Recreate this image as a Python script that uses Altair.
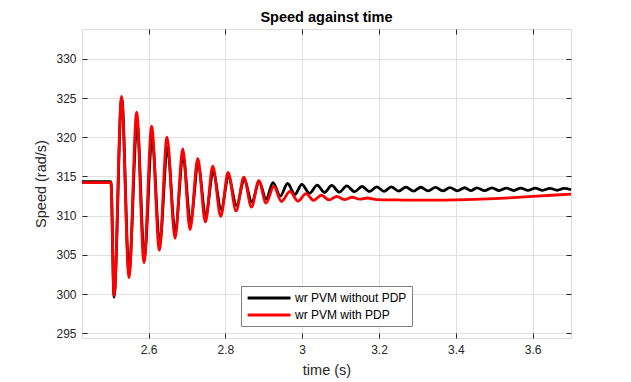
import altair as alt
import pandas as pd

# ---- data (extrema of the speed traces) ----
series_names = ["wr PVM without PDP", "wr PVM with PDP"]
series_colors = ["#000000", "#ff0000"]

t_black = [2.4266, 2.502, 2.510, 2.530, 2.549, 2.570, 2.589, 2.609, 2.629, 2.649,
           2.669, 2.690, 2.709, 2.729, 2.749, 2.768, 2.789, 2.808, 2.829, 2.849,
           2.869, 2.888, 2.906, 2.924, 2.943, 2.962, 2.981, 2.999, 3.019, 3.039,
           3.058, 3.077, 3.097, 3.116, 3.136, 3.156, 3.175, 3.194, 3.213, 3.232,
           3.251, 3.270, 3.290, 3.309, 3.328, 3.347, 3.366, 3.385, 3.404, 3.423,
           3.439, 3.455, 3.475, 3.494, 3.513, 3.532, 3.551, 3.569, 3.588, 3.607,
           3.626, 3.645, 3.664, 3.682, 3.700]
v_black = [314.35, 314.35, 299.6, 325.0, 302.8, 321.8, 304.7, 319.9, 306.4, 318.7,
           308.0, 317.5, 309.2, 316.4, 310.0, 315.6, 310.8, 314.95, 311.3, 314.55,
           311.75, 314.35, 312.1, 314.2, 312.5, 314.1, 312.7, 314.0, 312.85, 313.9,
           312.95, 313.85, 313.0, 313.8, 313.05, 313.72, 313.08, 313.68, 313.1, 313.66,
           313.12, 313.63, 313.13, 313.62, 313.15, 313.6, 313.16, 313.58, 313.17, 313.56,
           313.18, 313.55, 313.19, 313.54, 313.2, 313.52, 313.21, 313.51, 313.22, 313.5,
           313.23, 313.49, 313.24, 313.48, 313.3]

t_red = [2.4266, 2.502, 2.510, 2.5295, 2.549, 2.569, 2.588, 2.608, 2.628, 2.648,
         2.669, 2.689, 2.708, 2.728, 2.748, 2.767, 2.788, 2.807, 2.828, 2.848,
         2.868, 2.887, 2.906, 2.926, 2.946, 2.968, 2.989, 3.010, 3.030, 3.050,
         3.070, 3.090, 3.110, 3.130, 3.150, 3.170, 3.195, 3.250, 3.300, 3.350,
         3.400, 3.450, 3.500, 3.550, 3.600, 3.650, 3.700]
v_red = [314.2, 314.2, 299.8, 325.2, 302.1, 323.2, 304.0, 321.4, 305.6, 320.0,
         307.1, 318.5, 308.2, 317.3, 309.2, 316.3, 309.9, 315.5, 310.6, 314.9,
         311.1, 314.45, 311.6, 313.75, 311.8, 313.1, 311.85, 312.8, 311.95, 312.6,
         312.0, 312.45, 312.05, 312.35, 312.1, 312.25, 312.05, 312.0, 311.97, 311.97,
         312.0, 312.07, 312.17, 312.3, 312.45, 312.6, 312.75]

x_ticks = [2.6, 2.8, 3.0, 3.2, 3.4, 3.6]
y_ticks = [295, 300, 305, 310, 315, 320, 325, 330]
x_domain = [2.4266, 3.7]
y_domain = [294.4, 333.8]

df_black = pd.DataFrame({"t": t_black, "v": v_black, "series": series_names[0]})
df_red = pd.DataFrame({"t": t_red, "v": v_red, "series": series_names[1]})

FONT = "Liberation Sans"
TXT = "#262626"
GRID = "#e0e0e0"

xscale = alt.Scale(domain=x_domain, nice=False, zero=False)
yscale = alt.Scale(domain=y_domain, nice=False, zero=False)

color = alt.Color(
    "series:N",
    scale=alt.Scale(domain=series_names, range=series_colors),
    legend=alt.Legend(
        title=None, orient="none", legendX=159, legendY=257,
        symbolType="M-1,0H7", symbolSize=115, symbolStrokeWidth=3,
        labelFontSize=12, labelFont=FONT, labelColor="#000000",
        labelOffset=35, fillColor="white", strokeColor="#7f7f7f",
        padding=5, rowPadding=4, direction="vertical",
    ),
)

ax_bottom = alt.Axis(
    values=x_ticks, format=".1~f", title="time (s)", grid=True, gridColor=GRID,
    domain=False, offset=-5, tickSize=5, tickColor=TXT, labelPadding=6,
    labelFontSize=12, labelColor=TXT, labelFont=FONT, titleFont=FONT,
    titleFontSize=14.5, titleColor=TXT, titleFontWeight="normal", titlePadding=8,
)
ax_left = alt.Axis(
    values=y_ticks, format="d", title="Speed (rad/s)", grid=True, gridColor=GRID,
    domain=False, offset=-5, tickSize=5, tickColor=TXT, labelPadding=6,
    labelFontSize=12, labelColor=TXT, labelFont=FONT, titleFont=FONT,
    titleFontSize=14.5, titleColor=TXT, titleFontWeight="normal", titlePadding=7,
)
ax_top = alt.Axis(values=x_ticks, orient="top", title=None, labels=False, grid=False,
                  domain=False, offset=-5, tickSize=5, tickColor=TXT)
ax_right = alt.Axis(values=y_ticks, orient="right", title=None, labels=False, grid=False,
                    domain=False, offset=-5, tickSize=5, tickColor=TXT)

black = alt.Chart(df_black).mark_line(interpolate="monotone", strokeWidth=2.8).encode(
    x=alt.X("t:Q", scale=xscale, axis=ax_bottom),
    y=alt.Y("v:Q", scale=yscale, axis=ax_left),
    color=color,
)
red = alt.Chart(df_red).mark_line(interpolate="monotone", strokeWidth=2.8).encode(
    x=alt.X("t:Q", scale=xscale, axis=None),
    y=alt.Y("v:Q", scale=yscale, axis=None),
    color=color,
)
ticks = alt.Chart(df_black).mark_line(opacity=0).encode(
    x=alt.X("t:Q", scale=xscale, axis=ax_top),
    y=alt.Y("v:Q", scale=yscale, axis=ax_right),
)

chart = (
    alt.layer(black, red, ticks)
    .resolve_axis(x="independent", y="independent")
    .properties(
        width=489, height=309,
        title=alt.Title("Speed against time", fontSize=14.5, fontWeight="bold",
                        font=FONT, color="#000000", offset=3, anchor="middle"),
        autosize=alt.AutoSizeParams(type="none"),
        padding={"left": 74, "top": 21, "right": 52, "bottom": 50},
    )
    .configure_view(stroke="#808080", strokeWidth=1.4)
    .configure(background="white")
)

chart.save("out.html", embed_options={"renderer": "svg", "actions": False})
